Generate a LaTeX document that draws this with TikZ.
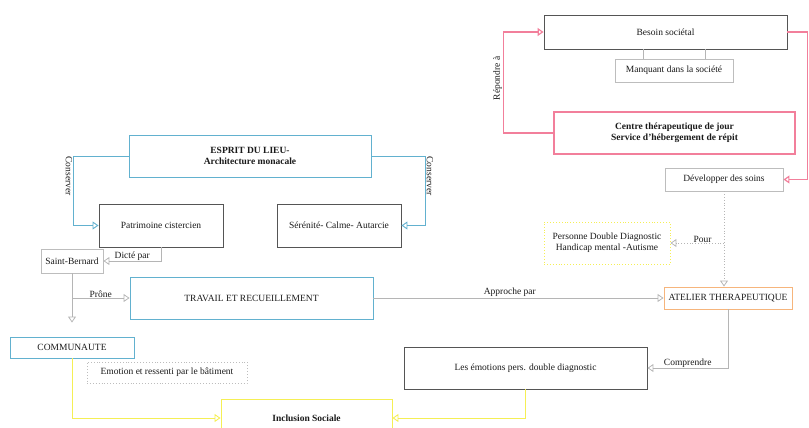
\documentclass[tikz,border=0pt]{standalone}
\usepackage{fontspec}
\setmainfont{Liberation Serif}
\usetikzlibrary{arrows.meta}
\definecolor{ink}{HTML}{1A1A1A}
\definecolor{boxdark}{HTML}{555555}
\definecolor{boxlight}{HTML}{BDBDBD}
\definecolor{linkgray}{HTML}{B5B5B5}
\definecolor{monkblue}{HTML}{62B1CF}
\definecolor{carepink}{HTML}{F27F9B}
\definecolor{inclyellow}{HTML}{F5EF55}
\definecolor{workorange}{HTML}{F6B57C}

\begin{document}
\begin{tikzpicture}[
  x=1pt, y=-1pt,
  font=\fontsize{9.5}{11}\selectfont,
  >={Triangle[open, length=6pt, width=8pt]},
  box/.style={draw=boxdark, line width=0.9pt, text=ink, align=center,
    inner sep=2pt, anchor=center},
  softbox/.style={box, draw=boxlight},
  bluebox/.style={box, draw=monkblue},
  pinkbox/.style={box, draw=carepink, line width=1.2pt},
  notebox/.style={box, draw=boxlight, dotted, line width=0.8pt},
  flow/.style={->, draw=linkgray, line width=0.8pt},
  tie/.style={draw=linkgray, line width=0.8pt},
  dotflow/.style={flow, dotted},
  blueflow/.style={->, draw=monkblue, line width=0.9pt},
  pinkflow/.style={->, draw=carepink, line width=1.2pt},
  yellowflow/.style={->, draw=inclyellow, line width=0.9pt},
  tag/.style={text=ink, inner sep=1pt}
]
\useasboundingbox (0,0) rectangle (809,428);
\clip (0,0) rectangle (809,428);

% right side: care project
\node[box, minimum width=243, minimum height=34] (besoin) at (665.5,32) {Besoin sociétal};
\node[softbox, minimum width=118, minimum height=23] (manquant) at (674,70.5) {Manquant dans la société};
\node[pinkbox, minimum width=241, minimum height=42] (centre) at (674.5,133)
  {\textbf{Centre thérapeutique de jour}\\\textbf{Service d'hébergement de répit}};
\node[softbox, minimum width=118, minimum height=23] (soins) at (724,179.5) {Développer des soins};
\node[box, draw=inclyellow, dotted, minimum width=126, minimum height=42] (personne) at (607,243)
  {Personne Double Diagnostic\\Handicap mental -Autisme};
\node[box, draw=workorange, minimum width=128, minimum height=22] (atelier) at (728,298) {ATELIER THERAPEUTIQUE};
\node[box, minimum width=243, minimum height=42] (emotions) at (525.5,368) {Les émotions pers. double diagnostic};

% left side: the place
\node[bluebox, minimum width=242, minimum height=42] (esprit) at (250,156)
  {\textbf{ESPRIT DU LIEU-}\\\textbf{Architecture monacale}};
\node[box, minimum width=124, minimum height=43] (patrimoine) at (161,225.5) {Patrimoine cistercien};
\node[box, minimum width=124, minimum height=43] (serenite) at (339,225.5) {Sérénité- Calme- Autarcie};
\node[softbox, minimum width=62, minimum height=24] (bernard) at (72,261) {Saint-Bernard};
\node[bluebox, minimum width=243, minimum height=42] (travail) at (251.5,298) {TRAVAIL ET RECUEILLEMENT};
\node[bluebox, minimum width=124, minimum height=21] (communaute) at (72,347.5) {COMMUNAUTE};
\node[notebox, minimum width=160, minimum height=21] (ressenti) at (167,372.5) {Emotion et ressenti par le bâtiment};
\node[box, draw=inclyellow, minimum width=171, minimum height=38] (inclusion) at (306.5,418) {\textbf{Inclusion Sociale}};

\draw[tie] ([xshift=-22pt]besoin.south) -- ([xshift=-22pt]besoin.south |- manquant.north);
\draw[tie] ([xshift=40pt]besoin.south) -- ([xshift=40pt]besoin.south |- manquant.north);

\draw[pinkflow] (centre.west) -- ++(-50,0)
  |- node[pos=0.27, rotate=90, anchor=south, tag, fill=white] {Répondre à} (besoin.west);
\draw[pinkflow] (besoin.east) -- ++(20,0) |- (soins.east);

\draw[dotflow] (soins.south) -- (soins.south |- atelier.north);
\draw[dotflow] (soins.south |- personne.east) -- node[pos=0.4, above=-1pt, tag] {Pour} (personne.east);

\draw[flow] (travail.east) -- node[pos=0.47, above, tag] {Approche par} (atelier.west);
\draw[flow] (atelier.south) |- node[pos=0.75, above=-1pt, tag] {Comprendre} (emotions.east);
\draw[yellowflow] (emotions.south) |- (inclusion.east);
\draw[yellowflow] (communaute.south) |- (inclusion.west);

\draw[blueflow] (esprit.west) -- ++(-55,0)
  |- node[pos=0.145, rotate=-90, anchor=north, tag] {Conserver} (patrimoine.west);
\draw[blueflow] (esprit.east) -- ++(54,0)
  |- node[pos=0.145, rotate=-90, anchor=south, tag] {Conserver} (serenite.east);

\draw[flow] (patrimoine.south) |- node[pos=0.75, above=-1pt, tag] {Dicté par} (bernard.east);
\draw[flow] (bernard.south) -- ([yshift=14pt]communaute.north);
\draw[flow] (bernard.south |- travail.west) -- node[above=-1pt, tag] {Prône} (travail.west);
\end{tikzpicture}
\end{document}
